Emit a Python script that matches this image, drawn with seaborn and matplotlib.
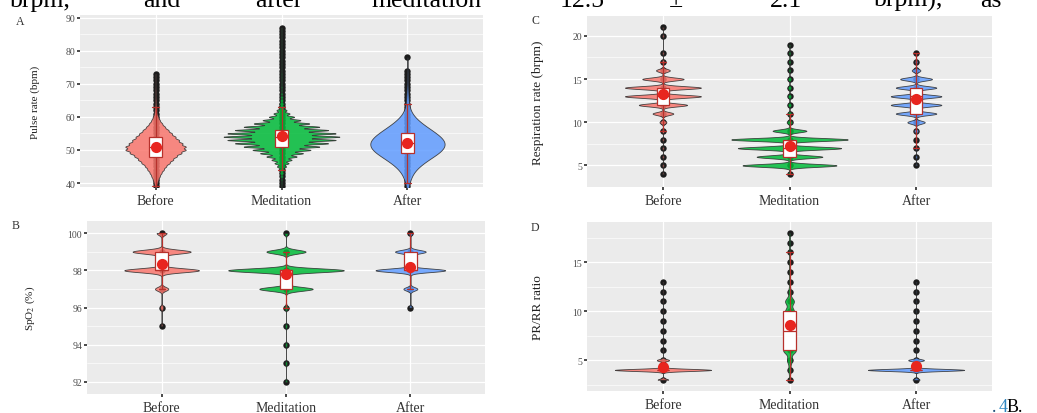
import matplotlib

matplotlib.use("Agg")
import matplotlib.pyplot as plt
import numpy as np
import pandas as pd
import seaborn as sns
from matplotlib.ticker import MultipleLocator

groups = ["Before", "Meditation", "After"]
colors = ["#F8766D", "#00BA38", "#619CFF"]

# A - pulse rate (bpm), number of readings per integer value
pulse_before_vals = np.arange(37, 74)
pulse_before_n = [1, 2, 4, 8, 12, 18, 25, 35, 45, 60, 75, 90, 110, 130, 130,
                  115, 100, 85, 70, 55, 40, 28, 18, 12, 7, 5, 4, 3, 3, 2,
                  2, 2, 1, 1, 1, 1, 1]
pulse_med_vals = np.arange(38, 88)
pulse_med_n = [1, 1, 2, 3, 5, 8, 12, 18, 28, 40, 60, 85, 115, 150, 185,
               215, 230, 215, 185, 150, 110, 75, 50, 32, 20, 13, 9, 7, 5, 4,
               3, 3, 2, 2, 2, 2, 1, 1, 1, 1, 1, 1, 1, 1, 1, 1, 1, 1, 1, 1]
pulse_after_vals = np.arange(37, 79)
pulse_after_n = [1, 2, 3, 5, 7, 10, 14, 20, 28, 38, 50, 62, 75, 85, 90,
                 92, 88, 80, 70, 58, 46, 35, 25, 17, 11, 7, 5, 4, 3, 3,
                 2, 2, 2, 1, 1, 1, 1, 1, 0, 0, 0, 1]

# B - SpO2 (%), values 92..100
spo2_vals = np.arange(92, 101)
spo2_before_n = [0, 0, 0, 1, 2, 8, 45, 35, 6]
spo2_med_n = [1, 1, 1, 1, 2, 30, 65, 22, 2]
spo2_after_n = [0, 0, 0, 0, 2, 10, 50, 22, 3]

# C - respiration rate (brpm), values 4..21
resp_vals = np.arange(4, 22)
resp_before_n = [1, 1, 1, 1, 1, 2, 5, 15, 35, 55, 55, 30, 10, 2, 1, 0, 1, 1]
resp_med_n = [2, 50, 35, 55, 62, 18, 3, 2, 2, 2, 2, 2, 1, 1, 1, 1, 0, 0]
resp_after_n = [0, 1, 1, 1, 1, 3, 12, 28, 35, 35, 28, 22, 6, 2, 1, 0, 0, 0]

# D - PR/RR ratio, values 3..18
ratio_vals = np.arange(3, 19)
ratio_before_n = [12, 110, 14, 1, 1, 1, 1, 1, 1, 1, 1, 0, 0, 0, 0, 0]
ratio_med_n = [1, 2, 4, 10, 9, 10, 7, 7, 7, 2, 1, 1, 1, 1, 1, 1]
ratio_after_n = [8, 110, 18, 1, 1, 1, 1, 1, 1, 1, 1, 0, 0, 0, 0, 0]

W, H = 1037, 414

sns.set_theme(
    style="darkgrid",
    rc={"axes.facecolor": "#EBEBEB", "grid.color": "white"},
)
plt.rcParams["font.family"] = ["Liberation Serif", "DejaVu Serif"]
plt.rcParams["mathtext.fontset"] = "stix"


def make_df(vals, counts):
    frames = []
    for g, v, n in zip(groups, vals, counts):
        frames.append(pd.DataFrame({"group": g, "value": np.repeat(v, n)}))
    return pd.concat(frames, ignore_index=True)


def add_axes(fig, left, top, right, bottom):
    return fig.add_axes(
        [left / W, 1 - bottom / H, (right - left) / W, (bottom - top) / H]
    )


def draw_panel(ax, df, widths, bws, ylim, major, ylabel, label_x, label_size):
    for i, g in enumerate(groups):
        sub = df[df["group"] == g]
        sns.stripplot(
            data=sub.drop_duplicates(), x="group", y="value", order=groups,
            jitter=False, color="#1c1c1c", size=4.6, ax=ax, zorder=1,
        )
        sns.violinplot(
            data=sub, x="group", y="value", order=groups, color=colors[i],
            saturation=1, width=widths[i], bw_adjust=bws[i], cut=0,
            inner=None, linewidth=0.6, linecolor="#2a2a2a", gridsize=1000,
            alpha=0.85, ax=ax,
        )
    sns.boxplot(
        data=df, x="group", y="value", order=groups, width=0.1,
        showfliers=False, color="white", linecolor="#B7312C", linewidth=0.9,
        saturation=1, ax=ax,
    )
    sns.pointplot(
        data=df, x="group", y="value", order=groups, errorbar=None,
        color="#E8251F", linestyle="none", marker="o", markersize=6,
        ax=ax, zorder=5,
    )

    ax.set_xlim(-0.6, 2.6)
    ax.set_ylim(*ylim)
    ax.yaxis.set_major_locator(MultipleLocator(major))
    ax.yaxis.set_minor_locator(MultipleLocator(major / 2))
    ax.grid(True, which="major", axis="both", color="white", linewidth=0.9)
    ax.grid(True, which="minor", axis="y", color="white", linewidth=0.45)
    ax.set_axisbelow(True)
    for s in ax.spines.values():
        s.set_visible(False)
    ax.tick_params(which="major", length=2, color="#333333",
                   left=True, bottom=True)
    ax.tick_params(which="minor", length=0)
    ax.tick_params(axis="y", labelsize=7, labelcolor="#4D4D4D", pad=1.5)
    ax.tick_params(axis="x", labelsize=10, labelcolor="#333333", pad=3)
    ax.set_xlabel("")
    ax.set_ylabel(ylabel, fontsize=label_size, color="#222222")
    ax.yaxis.set_label_coords(label_x, 0.5)


df_a = make_df([pulse_before_vals, pulse_med_vals, pulse_after_vals],
               [pulse_before_n, pulse_med_n, pulse_after_n])
df_b = make_df([spo2_vals] * 3, [spo2_before_n, spo2_med_n, spo2_after_n])
df_c = make_df([resp_vals] * 3, [resp_before_n, resp_med_n, resp_after_n])
df_d = make_df([ratio_vals] * 3, [ratio_before_n, ratio_med_n, ratio_after_n])

fig = plt.figure(figsize=(W / 100, H / 100), dpi=100)
fig.patch.set_facecolor("white")

ax_a = add_axes(fig, 80, 16, 483, 188)
draw_panel(ax_a, df_a, [0.48, 0.92, 0.59], [0.4, 0.3, 1.0],
           (38.8, 90.8), 10, "Pulse rate (bpm)", -0.1, 8)

ax_c = add_axes(fig, 587, 17, 992, 188)
draw_panel(ax_c, df_c, [0.6, 0.92, 0.4], [0.25, 0.22, 0.25],
           (2.5, 22.3), 5, "Respiration rate (brpm)", -0.105, 9.5)

ax_b = add_axes(fig, 87, 222, 485, 395)
draw_panel(ax_b, df_b, [0.6, 0.93, 0.56], [0.3, 0.25, 0.3],
           (91.35, 100.65), 2, "SpO$_2$ (%)", -0.125, 8)

ax_d = add_axes(fig, 587, 223, 992, 392)
draw_panel(ax_d, df_d, [0.76, 0.1, 0.76], [0.2, 0.25, 0.2],
           (1.85, 19.1), 5, "PR/RR ratio", -0.105, 9.5)

for letter, (x, y) in {"A": (20, 22), "C": (535, 21),
                       "B": (16, 226), "D": (535, 228)}.items():
    fig.text(x / W, 1 - y / H, letter, fontsize=8.5, ha="center",
             va="center", color="#333333")

# running text of the page, cut at the top edge
words = ["brpm,", "and", "after", "meditation", "12.5", "\u00b1", "2.1",
         "brpm),", "as"]
word_x = [10, 143, 255, 372, 560, 669, 770, 874, 980]
for w, x in zip(words, word_x):
    fig.text(x / W, 1 - 7 / H, w, fontsize=18.5, ha="left", va="baseline",
             color="black")

fig.text(992 / W, 1 - 412 / H, ".", fontsize=13, ha="left", va="baseline",
         color="#1F4E79")
fig.text(999 / W, 1 - 412 / H, "4", fontsize=13, ha="left", va="baseline",
         color="#2E86C1")
fig.text(1007 / W, 1 - 412 / H, "B.", fontsize=13, ha="left", va="baseline",
         color="black")

fig.savefig("out.png", dpi=100)
